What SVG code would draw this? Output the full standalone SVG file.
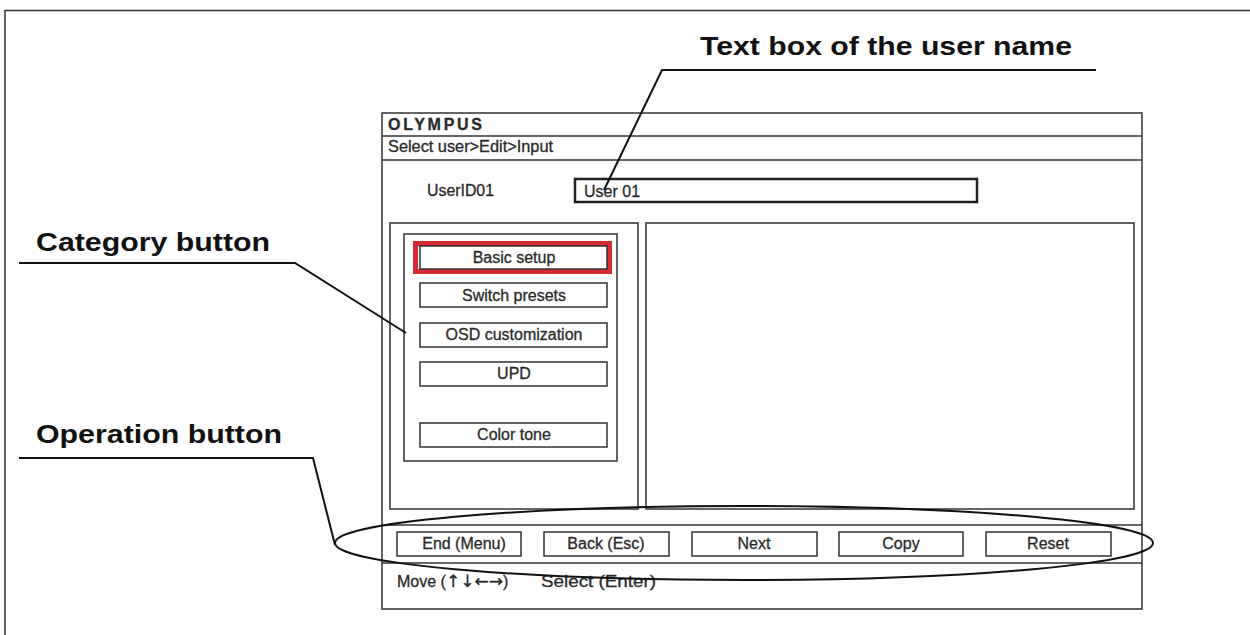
<svg xmlns="http://www.w3.org/2000/svg" width="1250" height="635" viewBox="0 0 1250 635">
<style>
.ln{fill:none;stroke:#333;stroke-width:1.5}
.btn{fill:#fff;stroke:#333;stroke-width:1.5}
.lead{fill:none;stroke:#111;stroke-width:2}
.t{font-family:"Liberation Sans",Arial,sans-serif;fill:#2a2a2a;stroke:#2a2a2a;stroke-width:0.3;font-size:16px}
.c{text-anchor:middle}
.lbl{font-family:"Liberation Sans",Arial,sans-serif;font-weight:bold;fill:#111;font-size:26px}
</style>
<rect x="0" y="0" width="1250" height="635" fill="#fff"/>
<path class="ln" d="M5,660 V10.5 H1260"/>
<g id="screen">
<rect class="ln" x="382" y="113" width="760" height="496"/>
<line class="ln" x1="382" y1="136" x2="1142" y2="136"/>
<line class="ln" x1="382" y1="160" x2="1142" y2="160"/>
<line class="ln" x1="382" y1="525" x2="1142" y2="525"/>
<line class="ln" x1="382" y1="563" x2="1142" y2="563"/>
<text class="t" x="388" y="130" font-weight="bold" font-size="15" textLength="94" lengthAdjust="spacing">OLYMPUS</text>
<text class="t" x="388" y="152" font-size="15" textLength="165" lengthAdjust="spacingAndGlyphs">Select user&gt;Edit&gt;Input</text>
<text class="t" x="427" y="196" textLength="67" lengthAdjust="spacingAndGlyphs">UserID01</text>
<text class="t" x="397" y="587" font-size="17">Move (<tspan font-family="'DejaVu Sans',sans-serif" font-size="17">↑↓←→</tspan>)</text>
<text class="t" x="541" y="587" font-size="17" textLength="115" lengthAdjust="spacingAndGlyphs">Select (Enter)</text>
</g>
<g id="textbox">
<rect x="575" y="179" width="402" height="23" fill="#fff" stroke="#222" stroke-width="2.5"/>
<text class="t" x="584" y="197">User 01</text>
</g>
<g id="left-panel">
<rect class="ln" x="390" y="223" width="248" height="286"/>
<rect class="ln" x="404" y="234" width="213" height="227"/>
</g>
<g id="right-panel">
<rect class="ln" x="646" y="223" width="488" height="286"/>
</g>
<g id="btn-basic">
<rect x="415.5" y="243.5" width="194" height="28" fill="none" stroke="#d42a30" stroke-width="5"/>
<rect class="btn" x="420" y="246" width="187" height="23"/>
<text class="t c" x="514" y="263">Basic setup</text>
</g>
<g id="btn-switch">
<rect class="btn" x="420" y="283" width="187" height="24"/>
<text class="t c" x="514" y="301">Switch presets</text>
</g>
<g id="btn-osd">
<rect class="btn" x="420" y="323" width="187" height="24"/>
<text class="t c" x="514" y="340">OSD customization</text>
</g>
<g id="btn-upd">
<rect class="btn" x="420" y="362" width="187" height="24"/>
<text class="t c" x="514" y="379">UPD</text>
</g>
<g id="btn-color">
<rect class="btn" x="420" y="423" width="187" height="24"/>
<text class="t c" x="514" y="440">Color tone</text>
</g>
<g id="btn-end">
<rect class="btn" x="397" y="532" width="124" height="24"/>
<text class="t c" x="464" y="549">End (Menu)</text>
</g>
<g id="btn-back">
<rect class="btn" x="544" y="532" width="125" height="24"/>
<text class="t c" x="606" y="549">Back (Esc)</text>
</g>
<g id="btn-next">
<rect class="btn" x="692" y="532" width="125" height="24"/>
<text class="t c" x="754" y="549">Next</text>
</g>
<g id="btn-copy">
<rect class="btn" x="839" y="532" width="124" height="24"/>
<text class="t c" x="901" y="549">Copy</text>
</g>
<g id="btn-reset">
<rect class="btn" x="986" y="532" width="125" height="24"/>
<text class="t c" x="1048" y="549">Reset</text>
</g>
<g id="label-textbox">
<text class="lbl" x="700" y="55" textLength="372" lengthAdjust="spacingAndGlyphs">Text box of the user name</text>
</g>
<g id="label-category">
<text class="lbl" x="36" y="251" textLength="234" lengthAdjust="spacingAndGlyphs">Category button</text>
</g>
<g id="label-operation">
<text class="lbl" x="36" y="443" textLength="246" lengthAdjust="spacingAndGlyphs">Operation button</text>
</g>
<g id="connectors">
<path class="lead" d="M1096,70 H662 L604,190"/>
<path class="lead" d="M19,263 H295 L406,333"/>
<path class="lead" d="M19,458 H313 L335,545"/>
<ellipse class="lead" cx="744" cy="543" rx="409" ry="37"/>
</g>
</svg>
